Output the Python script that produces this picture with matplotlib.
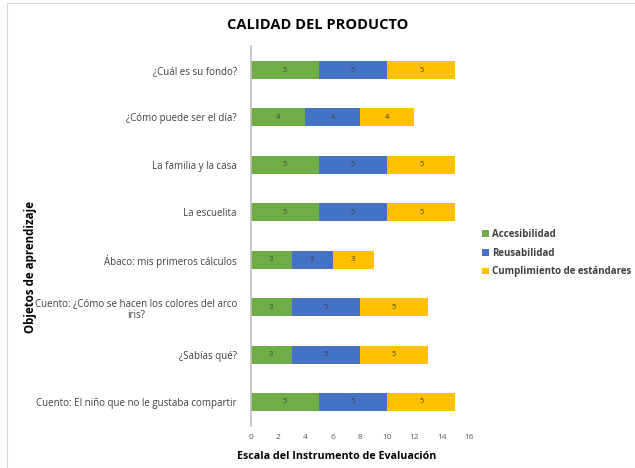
import numpy as np
import matplotlib.pyplot as plt
from matplotlib.patches import Rectangle

plt.rcParams['font.family'] = ['Open Sans', 'DejaVu Sans']

categorias = [
    "Cuento: El niño que no le gustaba compartir",
    "¿Sabías qué?",
    "Cuento: ¿Cómo se hacen los colores del arco\niris?",
    "Ábaco: mis primeros cálculos",
    "La escuelita",
    "La familia y la casa",
    "¿Cómo puede ser el día?",
    "¿Cuál es su fondo?",
]
accesibilidad = [5, 3, 3, 3, 5, 5, 4, 5]
reusabilidad = [5, 5, 5, 3, 5, 5, 4, 5]
cumplimiento = [5, 5, 5, 3, 5, 5, 4, 5]

series = [
    ("Accesibilidad", accesibilidad, "#70AD47"),
    ("Reusabilidad", reusabilidad, "#4472C4"),
    ("Cumplimiento de estándares", cumplimiento, "#FFC000"),
]

fig = plt.figure(figsize=(6.35, 4.68), dpi=100)
ax = fig.add_axes([0.395, 0.0904, 0.3436, 0.8106])

# marco del gráfico
fig.patches.append(Rectangle((7 / 635, 0), 1, 1 - 3 / 468, transform=fig.transFigure,
                             fill=False, edgecolor="#d9d9d9", linewidth=0.8))

y = np.arange(len(categorias))
izq = np.zeros(len(categorias))
for nombre, vals, color in series:
    vals = np.array(vals)
    bars = ax.barh(y, vals, left=izq, height=0.38, color=color, label=nombre)
    for b, v in zip(bars, vals):
        ax.text(b.get_x() + b.get_width() / 2, b.get_y() + b.get_height() / 2, str(v),
                ha="center", va="center", fontsize=5.5, color="#404040")
    izq += vals

ax.set_xlim(0, 16)
ax.set_ylim(-0.5, len(categorias) - 0.5)
ax.set_xticks(range(0, 17, 2))
ax.set_yticks(y)
ax.set_yticklabels(categorias, fontsize=7, color="#404040", ha="right", multialignment="center")
ax.tick_params(axis="both", length=0)
ax.tick_params(axis="x", labelsize=6, colors="#595959", pad=6)
ax.tick_params(axis="y", pad=10)
for s in ["top", "right", "bottom"]:
    ax.spines[s].set_visible(False)
ax.spines["left"].set_color("#bfbfbf")
ax.spines["left"].set_linewidth(1.2)

fig.text(0.530, 0.024, "Escala del Instrumento de Evaluación", ha="center", va="center",
         fontsize=7.7, fontweight="bold")
fig.text(0.048, 0.429, "Objetos de aprendizaje", rotation=90, ha="center", va="center",
         fontsize=8.3, fontweight="bold")
fig.text(0.5, 0.946, "CALIDAD DEL PRODUCTO", ha="center", va="center",
         fontsize=10.5, fontweight="bold")

leg = ax.legend(loc="center left", bbox_to_anchor=(1.02, 0.455), frameon=False,
                fontsize=7, handlelength=0.7, handleheight=0.7, handletextpad=0.3,
                labelspacing=0.8)
for t in leg.get_texts():
    t.set_color("#404040")
    t.set_fontweight("bold")

fig.savefig("out.png", dpi=100)
